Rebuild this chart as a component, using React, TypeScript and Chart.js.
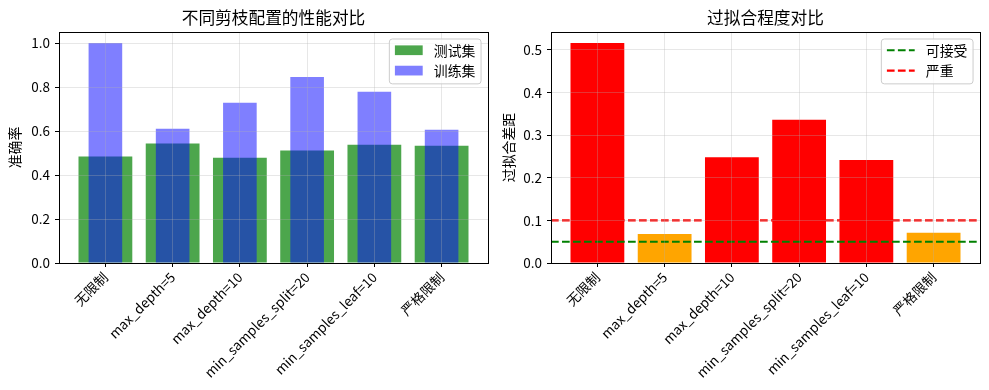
import React, { useEffect, useRef } from 'react';
import { Chart, registerables } from 'chart.js';

Chart.register(...registerables);

// ---------- data ----------
const categories = ['无限制', 'max_depth=5', 'max_depth=10', 'min_samples_split=20', 'min_samples_leaf=10', '严格限制'];
const testAcc = [0.484, 0.543, 0.479, 0.511, 0.538, 0.533];
const trainAcc = [1.0, 0.61, 0.728, 0.846, 0.779, 0.606];
const overfitGap = [0.516, 0.068, 0.248, 0.336, 0.242, 0.071];
const accTicks = [0, 0.2, 0.4, 0.6, 0.8, 1.0];
const gapTicks = [0, 0.1, 0.2, 0.3, 0.4, 0.5];
const thresholds = [0.05, 0.1];
const thresholdLabels = ['可接受', '严重'];
const seriesLabels = ['测试集', '训练集'];
const leftTitle = '不同剪枝配置的性能对比';
const rightTitle = '过拟合程度对比';
const leftYLabel = '准确率';
const rightYLabel = '过拟合差距';
const accMax = 1.05;
const gapMax = 0.542;
const X_MIN = -0.69;
const X_MAX = 5.69;

// ---------- style ----------
const FONT = "'Noto Sans CJK SC', 'DejaVu Sans', sans-serif";
const GREEN_A = 'rgba(0,128,0,0.7)';
const BLUE_A = 'rgba(0,0,255,0.5)';
const RED = '#ff0000';
const ORANGE = '#ffa500';
const GREEN = '#008000';
const GRID = 'rgba(176,176,176,0.3)';
const DASH = [7.7, 3.3];
const LINE_W = 2.08;

const framePlugin = {
  id: 'frame',
  afterDraw(chart: any, _args: any, opts: any) {
    const { ctx, chartArea: a } = chart;
    ctx.save();
    ctx.strokeStyle = '#000';
    ctx.lineWidth = 1;
    const l = Math.floor(a.left) + 0.5;
    const t = Math.floor(a.top) + 0.5;
    const r = Math.floor(a.right) + 0.5;
    const b = Math.floor(a.bottom) + 0.5;
    ctx.strokeRect(l, t, r - l, b - t);

    const items = (opts && opts.items) || [];
    if (items.length) {
      const fs = 13.9;
      ctx.font = `${fs}px ${FONT}`;
      const pad = 0.4 * fs, hl = 2 * fs, htp = 0.8 * fs, ls = 0.5 * fs, rowH = 13.4;
      const textW = Math.max(...items.map((i: any) => ctx.measureText(i.label).width));
      const w = 2 * pad + hl + htp + textW;
      const h = 2 * pad + items.length * rowH + (items.length - 1) * ls;
      const x0 = a.right - 0.5 * fs - w;
      const y0 = a.top + 0.5 * fs;
      ctx.beginPath();
      (ctx as any).roundRect(x0, y0, w, h, 3);
      ctx.fillStyle = 'rgba(255,255,255,0.8)';
      ctx.fill();
      ctx.strokeStyle = '#cccccc';
      ctx.lineWidth = 1;
      ctx.stroke();
      items.forEach((it: any, i: number) => {
        const cy = y0 + pad + rowH / 2 + i * (rowH + ls) - 1;
        const hx = x0 + pad;
        if (it.type === 'patch') {
          ctx.fillStyle = it.color;
          ctx.fillRect(hx, cy - 0.35 * fs, hl, 0.7 * fs);
        } else {
          ctx.setLineDash(DASH);
          ctx.strokeStyle = it.color;
          ctx.lineWidth = LINE_W;
          ctx.beginPath();
          ctx.moveTo(hx, cy);
          ctx.lineTo(hx + hl, cy);
          ctx.stroke();
          ctx.setLineDash([]);
        }
        ctx.fillStyle = '#000';
        ctx.textBaseline = 'middle';
        ctx.textAlign = 'left';
        ctx.fillText(it.label, hx + hl + htp, cy);
      });
    }
    ctx.restore();
  },
};

function makeOptions(p: { yTicks: number[]; yMax: number; yLabel: string; title: string; yAxisWidth: number; padRight: number; legendItems: any[] }) {
  const gridCfg = { display: true, offset: false, color: GRID, tickColor: '#000', tickLength: 4, lineWidth: 1, drawOnChartArea: true, z: 1 };
  return {
    responsive: false,
    animation: false,
    devicePixelRatio: 1,
    layout: { padding: { left: 0, right: p.padRight, top: 0, bottom: 0 } },
    plugins: {
      legend: { display: false },
      tooltip: { enabled: false },
      title: {
        display: true,
        text: p.title,
        fullSize: false,
        color: '#000',
        font: { family: FONT, size: 16.7, weight: 'normal' },
        padding: { top: 8, bottom: 4 },
      },
      frame: { items: p.legendItems },
    },
    scales: {
      x: {
        type: 'linear',
        min: X_MIN,
        max: X_MAX,
        offset: false,
        afterBuildTicks: (axis: any) => {
          axis.ticks = categories.map((_, i) => ({ value: i }));
        },
        afterFit: (axis: any) => {
          axis.height = 127;
        },
        grid: gridCfg,
        border: { display: false },
        ticks: {
          autoSkip: false,
          minRotation: 45,
          maxRotation: 45,
          padding: 2,
          color: '#000',
          font: { family: FONT, size: 13.5 },
          callback: (v: any) => categories[v] ?? '',
        },
      },
      y: {
        type: 'linear',
        min: 0,
        max: p.yMax,
        afterBuildTicks: (axis: any) => {
          axis.ticks = p.yTicks.map((v) => ({ value: v }));
        },
        afterFit: (axis: any) => {
          axis.width = p.yAxisWidth;
        },
        grid: gridCfg,
        border: { display: false },
        ticks: {
          padding: 5,
          color: '#000',
          font: { family: FONT, size: 13.5 },
          callback: (v: any) => Number(v).toFixed(1),
        },
        title: {
          display: true,
          text: p.yLabel,
          color: '#000',
          font: { family: FONT, size: 13.9 },
          padding: { top: 6, bottom: 0 },
        },
      },
    },
  };
}

function leftConfig(): any {
  return {
    type: 'bar',
    data: {
      datasets: [
        {
          type: 'bar',
          label: seriesLabels[0],
          data: testAcc.map((v, i) => ({ x: i, y: v })),
          backgroundColor: GREEN_A,
          borderWidth: 0,
          barPercentage: 0.8,
          categoryPercentage: 1,
          grouped: false,
          order: 2,
        },
        {
          type: 'bar',
          label: seriesLabels[1],
          data: trainAcc.map((v, i) => ({ x: i, y: v })),
          backgroundColor: BLUE_A,
          borderWidth: 0,
          barPercentage: 0.5,
          categoryPercentage: 1,
          grouped: false,
          order: 1,
        },
      ],
    },
    options: makeOptions({
      yTicks: accTicks,
      yMax: accMax,
      yLabel: leftYLabel,
      title: leftTitle,
      yAxisWidth: 59,
      padRight: 6,
      legendItems: [
        { label: seriesLabels[0], type: 'patch', color: GREEN_A },
        { label: seriesLabels[1], type: 'patch', color: BLUE_A },
      ],
    }),
    plugins: [framePlugin],
  };
}

function rightConfig(): any {
  const lineColors = [GREEN, RED];
  return {
    type: 'bar',
    data: {
      datasets: [
        {
          type: 'bar',
          label: rightYLabel,
          data: overfitGap.map((v, i) => ({ x: i, y: v })),
          backgroundColor: overfitGap.map((g) => (g > thresholds[1] ? RED : g > thresholds[0] ? ORANGE : GREEN)),
          borderWidth: 0,
          barPercentage: 0.8,
          categoryPercentage: 1,
          order: 2,
        },
        ...thresholds.map((t, k) => ({
          type: 'line',
          label: thresholdLabels[k],
          data: [
            { x: X_MIN, y: t },
            { x: X_MAX, y: t },
          ],
          borderColor: lineColors[k],
          borderWidth: LINE_W,
          borderDash: DASH,
          pointRadius: 0,
          fill: false,
          order: 0,
        })),
      ],
    },
    options: makeOptions({
      yTicks: gapTicks,
      yMax: gapMax,
      yLabel: rightYLabel,
      title: rightTitle,
      yAxisWidth: 57,
      padRight: 9,
      legendItems: thresholdLabels.map((l, k) => ({ label: l, type: 'line', color: lineColors[k] })),
    }),
    plugins: [framePlugin],
  };
}

function ChartCanvas({ make, left, width }: { make: () => any; left: number; width: number }) {
  const ref = useRef<HTMLCanvasElement | null>(null);
  useEffect(() => {
    if (!ref.current) return;
    const c = new Chart(ref.current, make());
    return () => c.destroy();
  }, []);
  return (
    <canvas
      ref={ref}
      width={width}
      height={390}
      style={{ position: 'absolute', left, top: 0, width, height: 390, display: 'block' }}
    />
  );
}

export default function App() {
  return (
    <div style={{ position: 'fixed', left: 0, top: 0, width: 989, height: 390, background: '#fff', overflow: 'hidden' }}>
      <ChartCanvas make={leftConfig} left={0} width={494} />
      <ChartCanvas make={rightConfig} left={494} width={495} />
    </div>
  );
}
